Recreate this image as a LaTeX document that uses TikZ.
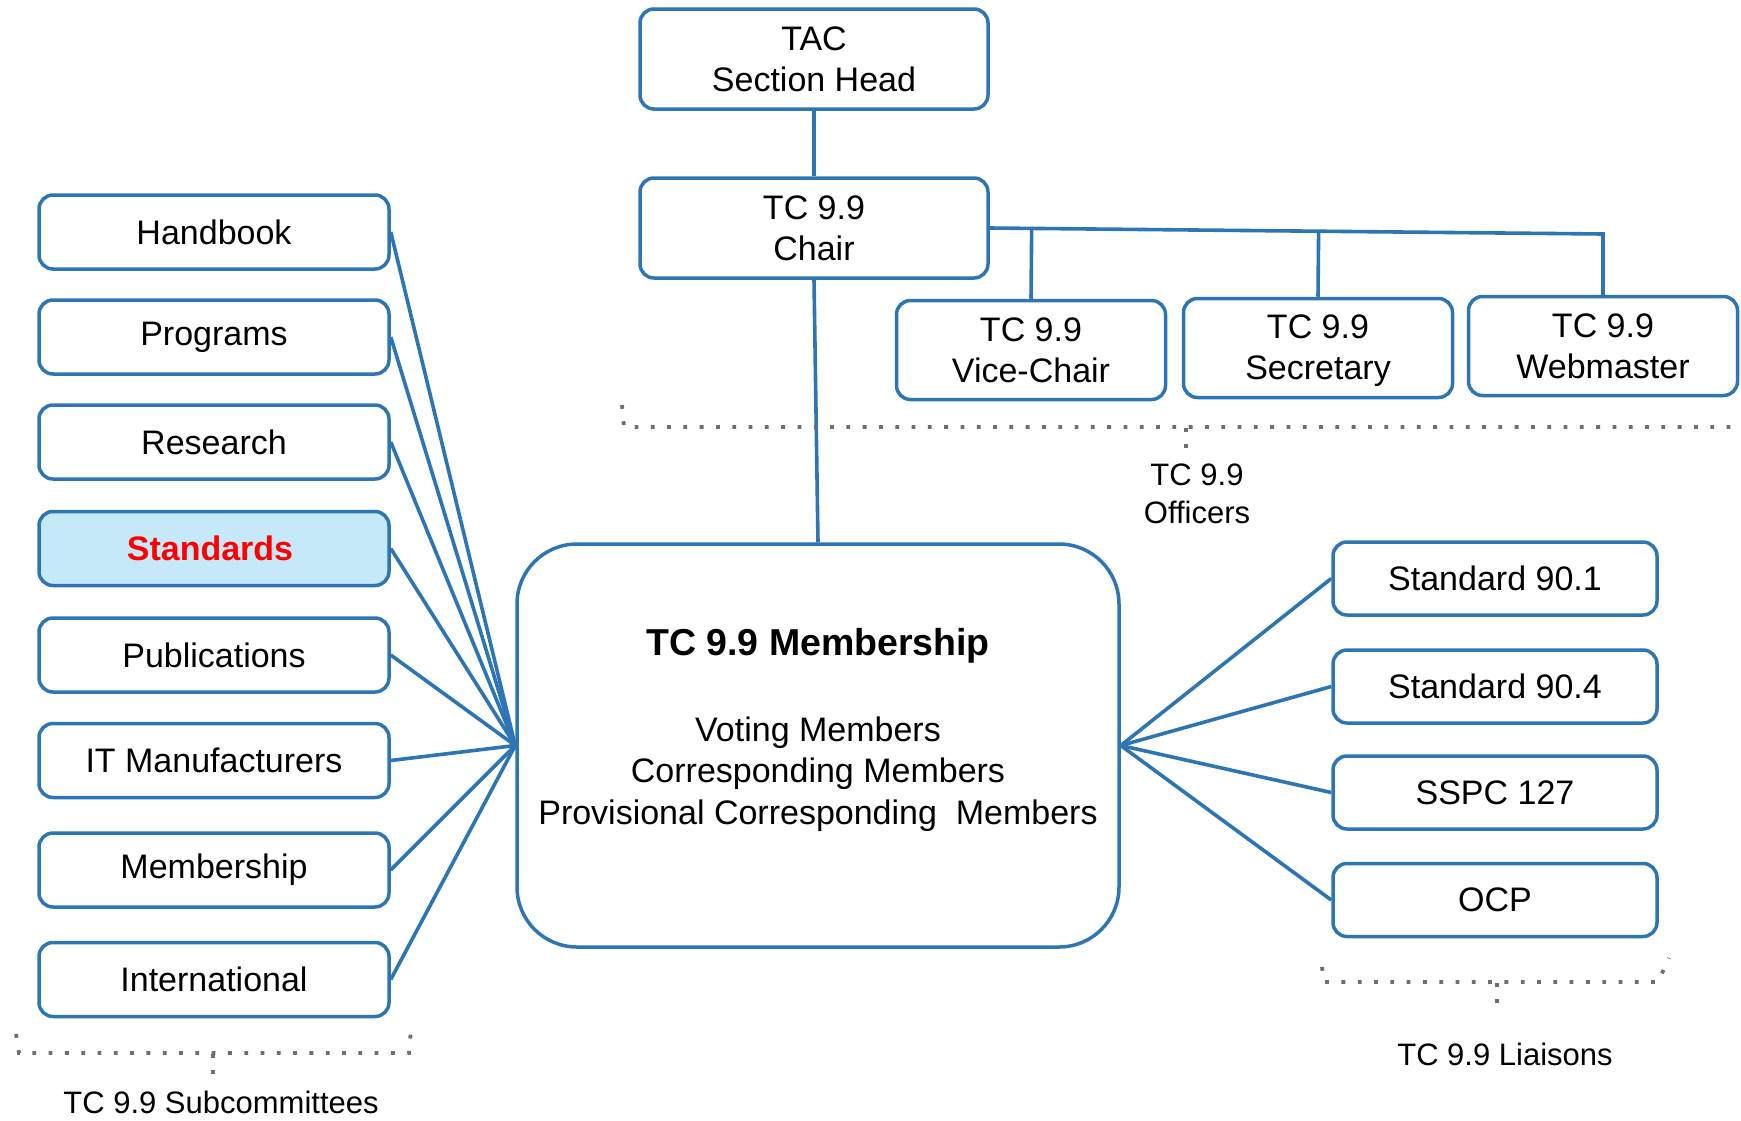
\documentclass[tikz,border=0pt]{standalone}
\usepackage{fontspec}
\setmainfont{Liberation Sans}
\usetikzlibrary{calc}
\definecolor{tcblue}{HTML}{2E75B6}
\definecolor{stdfill}{HTML}{C5E9F9}
\definecolor{dotgray}{HTML}{6F6F6F}
\tikzset{
  box/.style={draw=tcblue, line width=3.5pt, rounded corners=14pt, align=center, inner sep=0pt, fill=white,
    font=\fontsize{34}{41}\selectfont},
  topbox/.style={box, minimum width=348pt, minimum height=100pt},
  offbox/.style={box, minimum width=269pt, minimum height=99pt},
  leftbox/.style={box, minimum width=350pt, minimum height=74pt},
  rightbox/.style={box, minimum width=324pt, minimum height=73pt},
  conn/.style={draw=tcblue, line width=3.6pt},
  brace/.style={draw=dotgray, line width=3.8pt, dash pattern=on 3.8pt off 12.5pt},
  smalltext/.style={align=center, inner sep=0pt, font=\fontsize{31}{38}\selectfont},
}
\begin{document}
\begin{tikzpicture}[x=1pt, y=-1pt]
\useasboundingbox (0,0) rectangle (1741,1120);
% top
\node[topbox] (tac) at (814,59) {TAC\\Section Head};
\node[topbox] (chair) at (814,228) {TC 9.9\\Chair};
\node[offbox] (vice) at (1031,350) {TC 9.9\\Vice-Chair};
\node[offbox] (sec) at (1318,348) {\strut TC 9.9\\Secretary};
\node[offbox] (web) at (1603,346) {TC 9.9\\Webmaster};
\coordinate (bus) at (1603,234);
% membership
\node[draw=tcblue, line width=3.5pt, rounded corners=60pt, minimum width=602pt, minimum height=403pt, inner sep=0pt] (mem) at (818,745.5) {};
\node[inner sep=0pt, font=\fontsize{37.5}{43}\selectfont\bfseries] (memtitle) at (818,646) {TC 9.9 Membership};
\node[inner sep=0pt, align=center, font=\fontsize{34}{41.5}\selectfont] (memlist) at (818,774) {Voting Members\\Corresponding Members\\Provisional Corresponding\ \ Members};
% left boxes
\node[leftbox] (hb) at (214,232) {Handbook};
\node[leftbox] (prog) at (214,337) {Programs};
\node[leftbox] (res) at (214,442) {Research};
\node[leftbox, fill=stdfill, text=red, font=\fontsize{34}{41}\selectfont\bfseries] (std) at (214,548.5) {\hspace*{-8pt}Standards};
\node[leftbox] (pub) at (214,655) {Publications};
\node[leftbox] (itm) at (214,760.5) {IT Manufacturers};
\node[leftbox] (mship) at (214,870) {Membership};
\node[leftbox] (intl) at (214,979.5) {International};
% right boxes
\node[rightbox] (s901) at (1495,578.5) {Standard 90.1};
\node[rightbox] (s904) at (1495,686.5) {Standard 90.4};
\node[rightbox] (sspc) at (1495,792.5) {SSPC 127};
\node[rightbox] (ocp) at (1495,900) {OCP};
% connectors
\draw[conn] (tac.south) -- (chair.north);
\draw[conn] (chair.south) -- (mem.north);
\draw[conn] (chair.east) -- (bus) -- (web.north);
\draw[conn] (vice.north) -- ($(chair.east)!(vice.north)!(bus)$);
\draw[conn] (sec.north) -- ($(chair.east)!(sec.north)!(bus)$);
\foreach \n in {hb,prog,res,std,pub,itm,mship,intl}{
  \draw[conn] (\n.east) -- (mem.west);
}
\foreach \n in {s901,s904,sspc,ocp}{
  \draw[conn] (mem.east) -- (\n.west);
}
% braces
\draw[brace] (622,405) -- (624,427) -- (1741,427);
\draw[brace] (1186,428) -- (1186,452);
\node[smalltext] (offlabel) at (1197,494) {TC 9.9\\Officers};
\draw[brace] (16,1034) -- (19,1053) -- (409,1053) -- (411,1029);
\draw[brace] (213,1054) -- (213,1076);
\node[smalltext] (sublabel) at (221,1102) {TC 9.9 Subcommittees};
\draw[brace] (1322,967) -- (1324,982) -- (1658,982) -- (1669,958);
\draw[brace] (1497,983) -- (1497,1006);
\node[smalltext] (liaslabel) at (1505,1054) {TC 9.9 Liaisons};
\end{tikzpicture}
\end{document}
